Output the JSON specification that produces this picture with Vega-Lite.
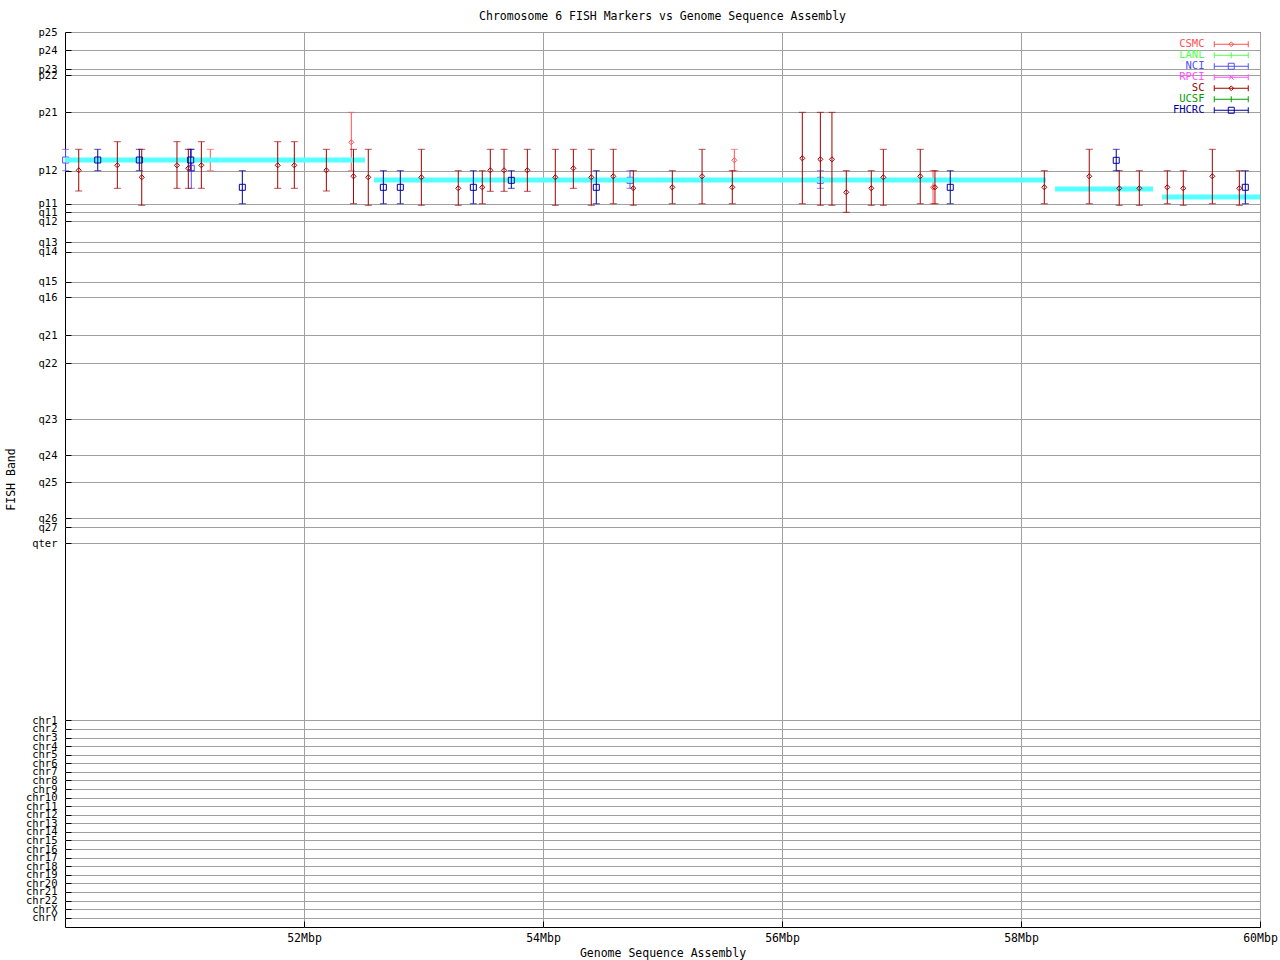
{
  "$schema": "https://vega.github.io/schema/vega-lite/v6.json",
  "width": 1195,
  "height": 895,
  "autosize": {"type": "none"},
  "padding": {"left": 65, "top": 32, "right": 20, "bottom": 33},
  "background": "white",
  "title": {
    "text": "Chromosome 6 FISH Markers vs Genome Sequence Assembly",
    "font": "DejaVu Sans Mono",
    "fontSize": 11.5,
    "fontWeight": "normal",
    "color": "black",
    "offset": 5,
    "anchor": "middle"
  },
  "config": {
    "view": {"stroke": "black", "strokeWidth": 1},
    "axis": {
      "labelFont": "DejaVu Sans Mono",
      "labelFontSize": 11.5,
      "labelColor": "black",
      "titleFont": "DejaVu Sans Mono",
      "titleFontSize": 11.5,
      "titleFontWeight": "normal",
      "titleColor": "black",
      "gridColor": "#a0a0a0",
      "gridOpacity": 1,
      "gridWidth": 1,
      "domain": false,
      "tickColor": "black",
      "labelOverlap": false,
      "labelBound": false,
      "labelFlush": false
    }
  },
  "datasets": {
    "fish": [
      {"source": "NCI", "mbp": 50.005, "band_pos": 128, "lo": 117.3, "hi": 138.7},
      {"source": "SC", "mbp": 50.115, "band_pos": 138.3, "lo": 117.3, "hi": 159},
      {"source": "FHCRC", "mbp": 50.274, "band_pos": 128, "lo": 117.3, "hi": 138.7},
      {"source": "SC", "mbp": 50.438, "band_pos": 133.3, "lo": 109.7, "hi": 156.3},
      {"source": "FHCRC", "mbp": 50.622, "band_pos": 128, "lo": 117.3, "hi": 138.7},
      {"source": "SC", "mbp": 50.642, "band_pos": 145.3, "lo": 117.3, "hi": 173.3},
      {"source": "SC", "mbp": 50.937, "band_pos": 133.3, "lo": 109.7, "hi": 156.3},
      {"source": "SC", "mbp": 51.032, "band_pos": 136.3, "lo": 117.3, "hi": 156.3},
      {"source": "FHCRC", "mbp": 51.052, "band_pos": 128, "lo": 117.3, "hi": 138.7},
      {"source": "NCI", "mbp": 51.057, "band_pos": 136.3, "lo": 117.3, "hi": 156.3},
      {"source": "SC", "mbp": 51.141, "band_pos": 133.3, "lo": 109.7, "hi": 156.3},
      {"source": "CSMC", "mbp": 51.216, "band_pos": 128, "lo": 117.3, "hi": 138.7},
      {"source": "FHCRC", "mbp": 51.484, "band_pos": 155.3, "lo": 138.7, "hi": 171.7},
      {"source": "SC", "mbp": 51.78, "band_pos": 133.3, "lo": 109.7, "hi": 156.3},
      {"source": "SC", "mbp": 51.919, "band_pos": 133.3, "lo": 109.7, "hi": 156.3},
      {"source": "SC", "mbp": 52.187, "band_pos": 138.3, "lo": 117.3, "hi": 159},
      {"source": "CSMC", "mbp": 52.396, "band_pos": 110.3, "lo": 80.3, "hi": 138.7},
      {"source": "SC", "mbp": 52.414, "band_pos": 144.3, "lo": 117.3, "hi": 171.7},
      {"source": "SC", "mbp": 52.538, "band_pos": 145.3, "lo": 117.3, "hi": 173.3},
      {"source": "FHCRC", "mbp": 52.664, "band_pos": 155.3, "lo": 138.7, "hi": 171.7},
      {"source": "FHCRC", "mbp": 52.806, "band_pos": 155.3, "lo": 138.7, "hi": 171.7},
      {"source": "SC", "mbp": 52.982, "band_pos": 145.3, "lo": 117.3, "hi": 173.3},
      {"source": "SC", "mbp": 53.291, "band_pos": 156.3, "lo": 138.7, "hi": 173.3},
      {"source": "FHCRC", "mbp": 53.417, "band_pos": 155.3, "lo": 138.7, "hi": 171.7},
      {"source": "SC", "mbp": 53.492, "band_pos": 155.3, "lo": 138.7, "hi": 171.7},
      {"source": "SC", "mbp": 53.559, "band_pos": 138.3, "lo": 117.3, "hi": 159.3},
      {"source": "SC", "mbp": 53.674, "band_pos": 138.3, "lo": 117.3, "hi": 159.3},
      {"source": "FHCRC", "mbp": 53.735, "band_pos": 148.3, "lo": 138.7, "hi": 156.3},
      {"source": "SC", "mbp": 53.869, "band_pos": 138.3, "lo": 117.3, "hi": 159.3},
      {"source": "SC", "mbp": 54.103, "band_pos": 145.3, "lo": 117.3, "hi": 173.3},
      {"source": "SC", "mbp": 54.254, "band_pos": 136.3, "lo": 117.3, "hi": 156.3},
      {"source": "SC", "mbp": 54.404, "band_pos": 145.3, "lo": 117.3, "hi": 173.3},
      {"source": "FHCRC", "mbp": 54.446, "band_pos": 155.3, "lo": 138.7, "hi": 171.7},
      {"source": "SC", "mbp": 54.588, "band_pos": 144.3, "lo": 117.3, "hi": 171.7},
      {"source": "NCI", "mbp": 54.728, "band_pos": 148.3, "lo": 138.7, "hi": 156.3},
      {"source": "SC", "mbp": 54.756, "band_pos": 156.3, "lo": 138.7, "hi": 173.3},
      {"source": "SC", "mbp": 55.082, "band_pos": 155.3, "lo": 138.7, "hi": 171.7},
      {"source": "SC", "mbp": 55.331, "band_pos": 144.3, "lo": 117.3, "hi": 171.7},
      {"source": "SC", "mbp": 55.584, "band_pos": 155.3, "lo": 138.7, "hi": 171.7},
      {"source": "CSMC", "mbp": 55.601, "band_pos": 128.3, "lo": 117.3, "hi": 138.7},
      {"source": "SC", "mbp": 56.17, "band_pos": 126.3, "lo": 80.3, "hi": 171.7},
      {"source": "SC", "mbp": 56.321, "band_pos": 127.3, "lo": 80.3, "hi": 173.3},
      {"source": "NCI", "mbp": 56.321, "band_pos": 148.3, "lo": 138.7, "hi": 156.3},
      {"source": "SC", "mbp": 56.418, "band_pos": 127.3, "lo": 80.3, "hi": 173.3},
      {"source": "SC", "mbp": 56.538, "band_pos": 160.3, "lo": 138.7, "hi": 180.3},
      {"source": "SC", "mbp": 56.747, "band_pos": 156.3, "lo": 138.7, "hi": 173.3},
      {"source": "SC", "mbp": 56.848, "band_pos": 145.3, "lo": 117.3, "hi": 173.3},
      {"source": "SC", "mbp": 57.157, "band_pos": 144.3, "lo": 117.3, "hi": 171.7},
      {"source": "CSMC", "mbp": 57.264, "band_pos": 155.3, "lo": 138.7, "hi": 171.7},
      {"source": "SC", "mbp": 57.28, "band_pos": 155.3, "lo": 138.7, "hi": 171.7},
      {"source": "FHCRC", "mbp": 57.408, "band_pos": 155.3, "lo": 138.7, "hi": 171.7},
      {"source": "SC", "mbp": 58.195, "band_pos": 155.3, "lo": 138.7, "hi": 171.7},
      {"source": "SC", "mbp": 58.571, "band_pos": 144.3, "lo": 117.3, "hi": 171.7},
      {"source": "FHCRC", "mbp": 58.797, "band_pos": 128.3, "lo": 117.3, "hi": 138.7},
      {"source": "SC", "mbp": 58.822, "band_pos": 156.3, "lo": 138.7, "hi": 173.3},
      {"source": "SC", "mbp": 58.99, "band_pos": 156.3, "lo": 138.7, "hi": 173.3},
      {"source": "SC", "mbp": 59.224, "band_pos": 155.3, "lo": 138.7, "hi": 171.7},
      {"source": "SC", "mbp": 59.358, "band_pos": 156.3, "lo": 138.7, "hi": 173.3},
      {"source": "SC", "mbp": 59.601, "band_pos": 144.3, "lo": 117.3, "hi": 171.7},
      {"source": "SC", "mbp": 59.827, "band_pos": 156.3, "lo": 138.7, "hi": 173.3},
      {"source": "FHCRC", "mbp": 59.877, "band_pos": 155.3, "lo": 138.7, "hi": 171.7}
    ],
    "assembly": [
      {"start": 50.0, "end": 52.51, "band_pos": 128},
      {"start": 52.586, "end": 58.21, "band_pos": 148},
      {"start": 58.285, "end": 59.105, "band_pos": 157},
      {"start": 59.18, "end": 60.0, "band_pos": 165}
    ]
  },
  "layer": [
    {
      "data": {"name": "fish"},
      "transform": [{"filter": {"field": "source", "oneOf": ["CSMC", "LANL", "NCI", "RPCI"]}}],
      "mark": {"type": "errorbar", "ticks": {"size": 7}, "thickness": 1},
      "encoding": {
        "x": {
          "field": "mbp", "type": "quantitative",
          "scale": {"domain": [50, 60], "nice": false, "zero": false},
          "title": "Genome Sequence Assembly",
          "axis": {
            "values": [52, 54, 56, 58, 60],
            "tickCount": 100,
            "labelExpr": "datum.value + 'Mbp'",
            "grid": true,
            "tickSize": -6,
            "labelPadding": 11,
            "titleY": 26,
            "titleBaseline": "middle"
          }
        },
        "y": {
          "field": "lo", "type": "quantitative",
          "scale": {"domain": [0, 895], "reverse": true, "nice": false, "zero": false},
          "title": "FISH Band",
          "axis": {
            "values": [0,18,37,43.3,80.3,138.7,171.7,180.3,189.3,210.3,219.5,249.7,265.3,303,331.3,387.3,423.3,450.3,486,495,511.3,688.3,696.9,705.5,714.1,722.6,731.2,739.8,748.4,757,765.5,774.1,782.7,791.3,799.9,808.4,817,825.6,834.2,842.8,851.3,859.9,868.5,877.1,885.7],
            "tickCount": 100,
            "labelExpr": "['p25','p24','p23','p22','p21','p12','p11','q11','q12','q13','q14','q15','q16','q21','q22','q23','q24','q25','q26','q27','qter','chr1','chr2','chr3','chr4','chr5','chr6','chr7','chr8','chr9','chr10','chr11','chr12','chr13','chr14','chr15','chr16','chr17','chr18','chr19','chr20','chr21','chr22','chrX','chrY'][indexof([0,18,37,43.3,80.3,138.7,171.7,180.3,189.3,210.3,219.5,249.7,265.3,303,331.3,387.3,423.3,450.3,486,495,511.3,688.3,696.9,705.5,714.1,722.6,731.2,739.8,748.4,757,765.5,774.1,782.7,791.3,799.9,808.4,817,825.6,834.2,842.8,851.3,859.9,868.5,877.1,885.7], datum.value)]",
            "labelFontSize": 10.5,
            "grid": true,
            "tickSize": -6,
            "labelPadding": 14,
            "titleX": -54,
            "titleY": 447,
            "titleAngle": -90,
            "titleBaseline": "middle",
            "titleAlign": "center"
          }
        },
        "y2": {"field": "hi"},
        "color": {
          "field": "source", "type": "nominal",
          "scale": {
            "domain": ["CSMC", "LANL", "NCI", "RPCI", "SC", "UCSF", "FHCRC"],
            "range": ["#ff5050", "#50ff50", "#5050ff", "#ff50ff", "#a00000", "#00a000", "#0000a0"]
          },
          "legend": {
            "orient": "none",
            "legendX": 1161,
            "legendY": 7,
            "title": null,
            "padding": 0,
            "rowPadding": -2,
            "symbolSize": 64,
            "symbolStrokeWidth": 1,
            "symbolOpacity": 1,
            "symbolFillColor": "transparent",
            "symbolType": {"expr": "indexof(['CSMC','SC'], datum.value) >= 0 ? 'M-4.25,0H4.25M-4.25,-0.75V0.75M4.25,-0.75V0.75M0,-0.6L0.6,0M0.6,0L0,0.6M0,0.6L-0.6,0M-0.6,0L0,-0.6' : indexof(['NCI','FHCRC'], datum.value) >= 0 ? 'M-4.25,0H4.25M-4.25,-0.75V0.75M4.25,-0.75V0.75M-0.75,-0.75H0.75M0.75,-0.75V0.75M0.75,0.75H-0.75M-0.75,0.75V-0.75' : datum.value === 'RPCI' ? 'M-4.25,0H4.25M-4.25,-0.75V0.75M4.25,-0.75V0.75M-0.6,-0.6L0.6,0.6M-0.6,0.6L0.6,-0.6' : 'M-4.25,0H4.25M-4.25,-0.75V0.75M4.25,-0.75V0.75M0,-0.75V0.75'"},
            "labelFont": "DejaVu Sans Mono",
            "labelFontSize": 10.5,
            "labelAlign": "right",
            "labelOffset": -32,
            "labelColor": {"expr": "scale('color', datum.value)"}
          }
        }
      }
    },
    {
      "data": {"name": "fish"},
      "transform": [{"filter": {"field": "source", "oneOf": ["CSMC", "LANL", "RPCI"]}}],
      "mark": {"type": "point", "filled": false, "strokeWidth": 1, "opacity": 1, "size": 36, "shape": "M0,-0.85L0.85,0L0,0.85L-0.85,0Z"},
      "encoding": {
        "x": {"field": "mbp", "type": "quantitative", "title": "Genome Sequence Assembly"},
        "y": {"field": "band_pos", "type": "quantitative", "title": "FISH Band"},
        "color": {"field": "source", "type": "nominal"}
      }
    },
    {
      "data": {"name": "fish"},
      "transform": [{"filter": {"field": "source", "equal": "NCI"}}],
      "mark": {"type": "point", "filled": false, "strokeWidth": 1, "opacity": 1, "size": 36, "shape": "square"},
      "encoding": {
        "x": {"field": "mbp", "type": "quantitative", "title": "Genome Sequence Assembly"},
        "y": {"field": "band_pos", "type": "quantitative", "title": "FISH Band"},
        "color": {"field": "source", "type": "nominal"}
      }
    },
    {
      "data": {"name": "assembly"},
      "mark": {"type": "rule", "color": "#55ffff", "strokeWidth": 5, "strokeCap": "butt"},
      "encoding": {
        "x": {"field": "start", "type": "quantitative", "title": "Genome Sequence Assembly"},
        "x2": {"field": "end"},
        "y": {"field": "band_pos", "type": "quantitative", "title": "FISH Band"}
      }
    },
    {
      "data": {"name": "fish"},
      "transform": [{"filter": {"field": "source", "oneOf": ["SC", "UCSF", "FHCRC"]}}],
      "mark": {"type": "errorbar", "ticks": {"size": 7}, "thickness": 1},
      "encoding": {
        "x": {"field": "mbp", "type": "quantitative", "title": "Genome Sequence Assembly"},
        "y": {"field": "lo", "type": "quantitative", "title": "FISH Band"},
        "y2": {"field": "hi"},
        "color": {"field": "source", "type": "nominal"}
      }
    },
    {
      "data": {"name": "fish"},
      "transform": [{"filter": {"field": "source", "oneOf": ["SC", "UCSF"]}}],
      "mark": {"type": "point", "filled": false, "strokeWidth": 1, "opacity": 1, "size": 36, "shape": "M0,-0.85L0.85,0L0,0.85L-0.85,0Z"},
      "encoding": {
        "x": {"field": "mbp", "type": "quantitative", "title": "Genome Sequence Assembly"},
        "y": {"field": "band_pos", "type": "quantitative", "title": "FISH Band"},
        "color": {"field": "source", "type": "nominal"}
      }
    },
    {
      "data": {"name": "fish"},
      "transform": [{"filter": {"field": "source", "equal": "FHCRC"}}],
      "mark": {"type": "point", "filled": false, "strokeWidth": 1, "opacity": 1, "size": 36, "shape": "square"},
      "encoding": {
        "x": {"field": "mbp", "type": "quantitative", "title": "Genome Sequence Assembly"},
        "y": {"field": "band_pos", "type": "quantitative", "title": "FISH Band"},
        "color": {"field": "source", "type": "nominal"}
      }
    }
  ]
}
